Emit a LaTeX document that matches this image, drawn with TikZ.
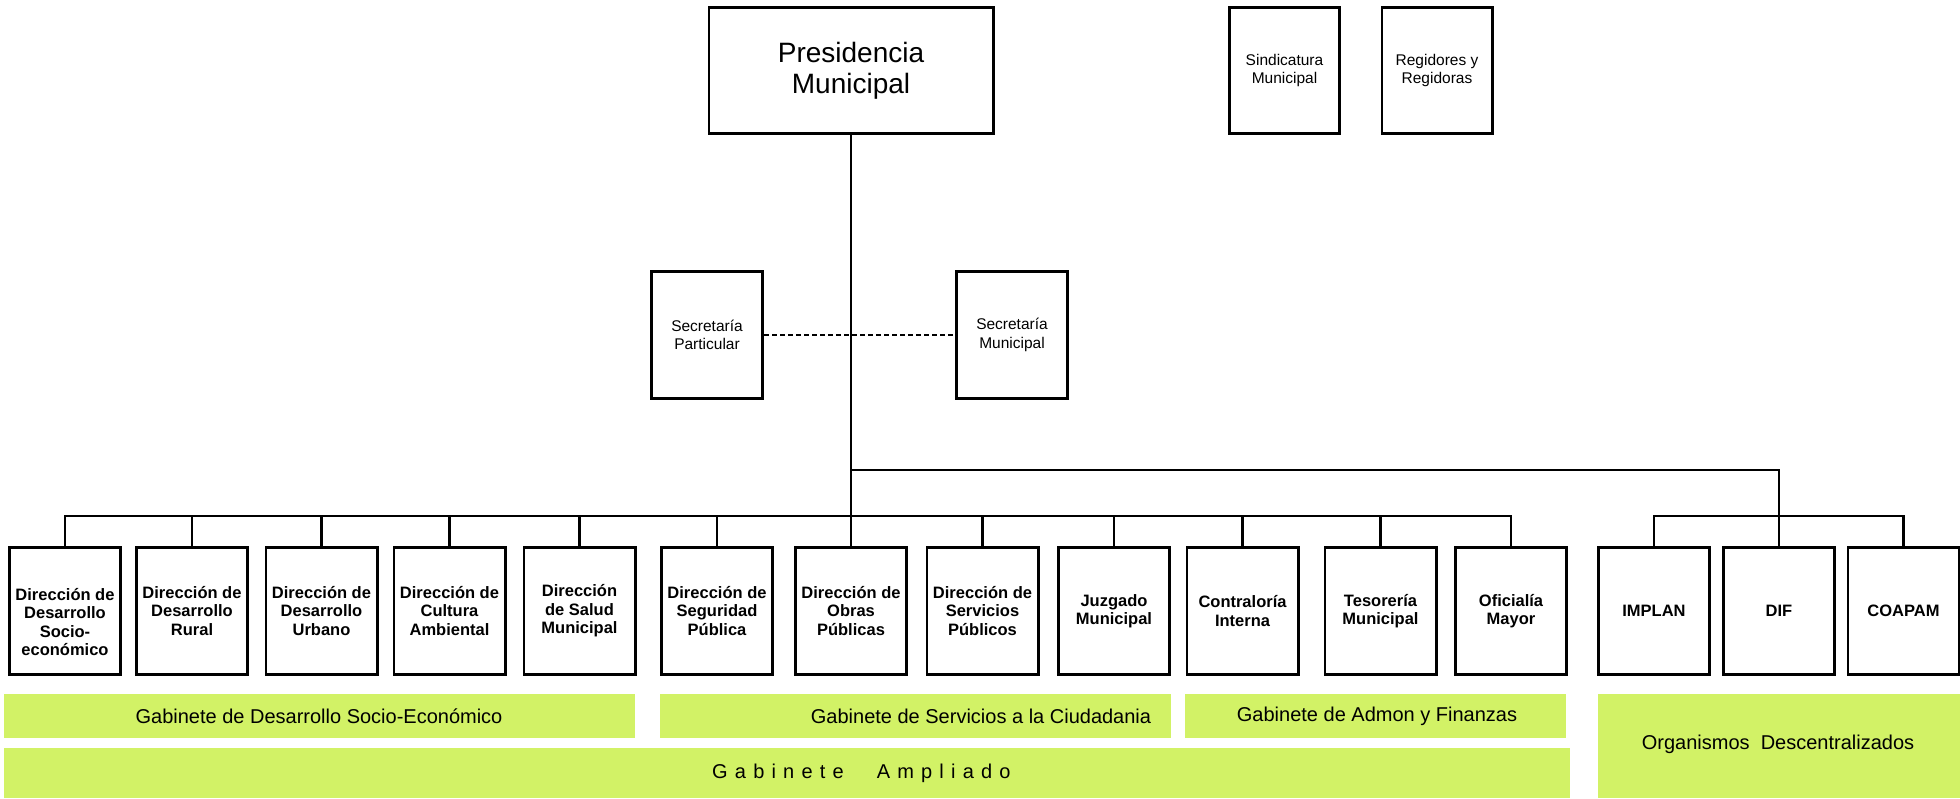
\documentclass[tikz,border=0pt]{standalone}
\usepackage{fontspec}
\setmainfont{Liberation Sans}
\definecolor{gab}{RGB}{210,242,102}
\newcommand\lsp{\hspace{7.2pt}}
\begin{document}
\begin{tikzpicture}[x=1pt,y=-1pt,
  box/.style={draw=black, line width=2.8pt, inner sep=0pt, align=center},
  unitfont/.style={font=\fontsize{16.5}{18.4}\selectfont\bfseries},
  unit/.style={box, unitfont, minimum width=111.2pt, minimum height=127.2pt},
  small/.style={box, minimum width=110.2pt, minimum height=126.2pt,
    font=\fontsize{15.5}{18.5}\selectfont},
  conn/.style={line width=2.4pt, line cap=rect},
  gtext/.style={inner sep=0pt, font=\fontsize{20}{24}\selectfont},
  gbar/.style={fill=gab}
]
\useasboundingbox (0,0) rectangle (1960,798);
\fill[white] (0,0) rectangle (1960,798);

% top
\node[box, minimum width=284.2pt, minimum height=126.2pt,
  font=\fontsize{28}{31}\selectfont] (pres) at (851,70.5) {Presidencia\\Municipal};
\node[small] (sind) at (1284.5,70.5) {Sindicatura\\Municipal};
\node[small] (regi) at (1437,70.5) {Regidores y\\Regidoras};

\node[small, minimum width=111.2pt, minimum height=127.2pt] (spart) at (707,335) {Secretaría\\Particular};
\node[small, minimum width=111.2pt, minimum height=127.2pt] (smun) at (1012,335) {Secretaría\\Municipal};

% bottom row
\node[unit] (b1) at (65,611) {};
\node[unitfont, align=center, inner sep=0pt] (b1t) at (65,622) {Dirección de\\Desarrollo\\Socio-\\económico};
\node[unit] (b2) at (192,611) {Dirección de\\Desarrollo\\Rural};
\node[unit] (b3) at (321.5,611) {Dirección de\\Desarrollo\\Urbano};
\node[unit] (b4) at (449.5,611) {Dirección de\\Cultura\\Ambiental};
\node[unit] (b5) at (579.5,611) {Dirección\\de Salud\\Municipal};
\node[unit] (b6) at (717,611) {Dirección de\\Seguridad\\Pública};
\node[unit] (b7) at (851,611) {Dirección de\\Obras\\Públicas};
\node[unit] (b8) at (982.5,611) {Dirección de\\Servicios\\Públicos};
\node[unit] (b9) at (1114,611) {Juzgado\\Municipal};
\node[unit] (b10) at (1242.5,611) {Contraloría\\Interna};
\node[unit] (b11) at (1380.5,611) {Tesorería\\Municipal};
\node[unit] (b12) at (1511,611) {Oficialía\\Mayor};
\node[unit] (b13) at (1654,611) {IMPLAN};
\node[unit] (b14) at (1779,611) {DIF};
\node[unit] (b15) at (1903.5,611) {COAPAM};

% connectors
\coordinate (busy) at (0,516);
\coordinate (topy) at (0,470);
\draw[conn] (pres.south) -- (b7.north);
\draw[conn] (b1.north) -- (b1.north |- busy) -- (b12.north |- busy) -- (b12.north);
\foreach \n in {b2,b3,b4,b5,b6,b8,b9,b10,b11}
  \draw[conn] (\n.north) -- (\n.north |- busy);
\draw[conn] (pres.south |- topy) -- (b14.north |- topy) -- (b14.north);
\draw[conn] (b13.north) -- (b13.north |- busy) -- (b15.north |- busy) -- (b15.north);
\draw[line width=2.4pt, dash pattern=on 5pt off 3pt] (spart.east) -- (smun.west);

% green bars
\fill[gbar] (4,694) rectangle (635,738);
\fill[gbar] (660,694) rectangle (1171,738);
\fill[gbar] (1185,694) rectangle (1566,738);
\fill[gbar] (4,748) rectangle (1570,798);
\fill[gbar] (1598,694) rectangle (1960,798);
\node[gtext] (gdes) at (319,716) {Gabinete de Desarrollo Socio-Económico};
\node[gtext] (gser) at (981,716) {Gabinete de Servicios a la Ciudadania};
\node[gtext] (gadm) at (1377,716) {Gabinete de Admon y Finanzas};
\node[gtext] (gorg) at (1778,744) {Organismos\ \ Descentralizados};
\node[gtext, anchor=west] (gamp) at (712,773) {G\lsp a\lsp b\lsp i\lsp n\lsp e\lsp t\lsp e\hspace{33pt}A\lsp m\lsp p\lsp l\lsp i\lsp a\lsp d\lsp o};
\end{tikzpicture}
\end{document}
